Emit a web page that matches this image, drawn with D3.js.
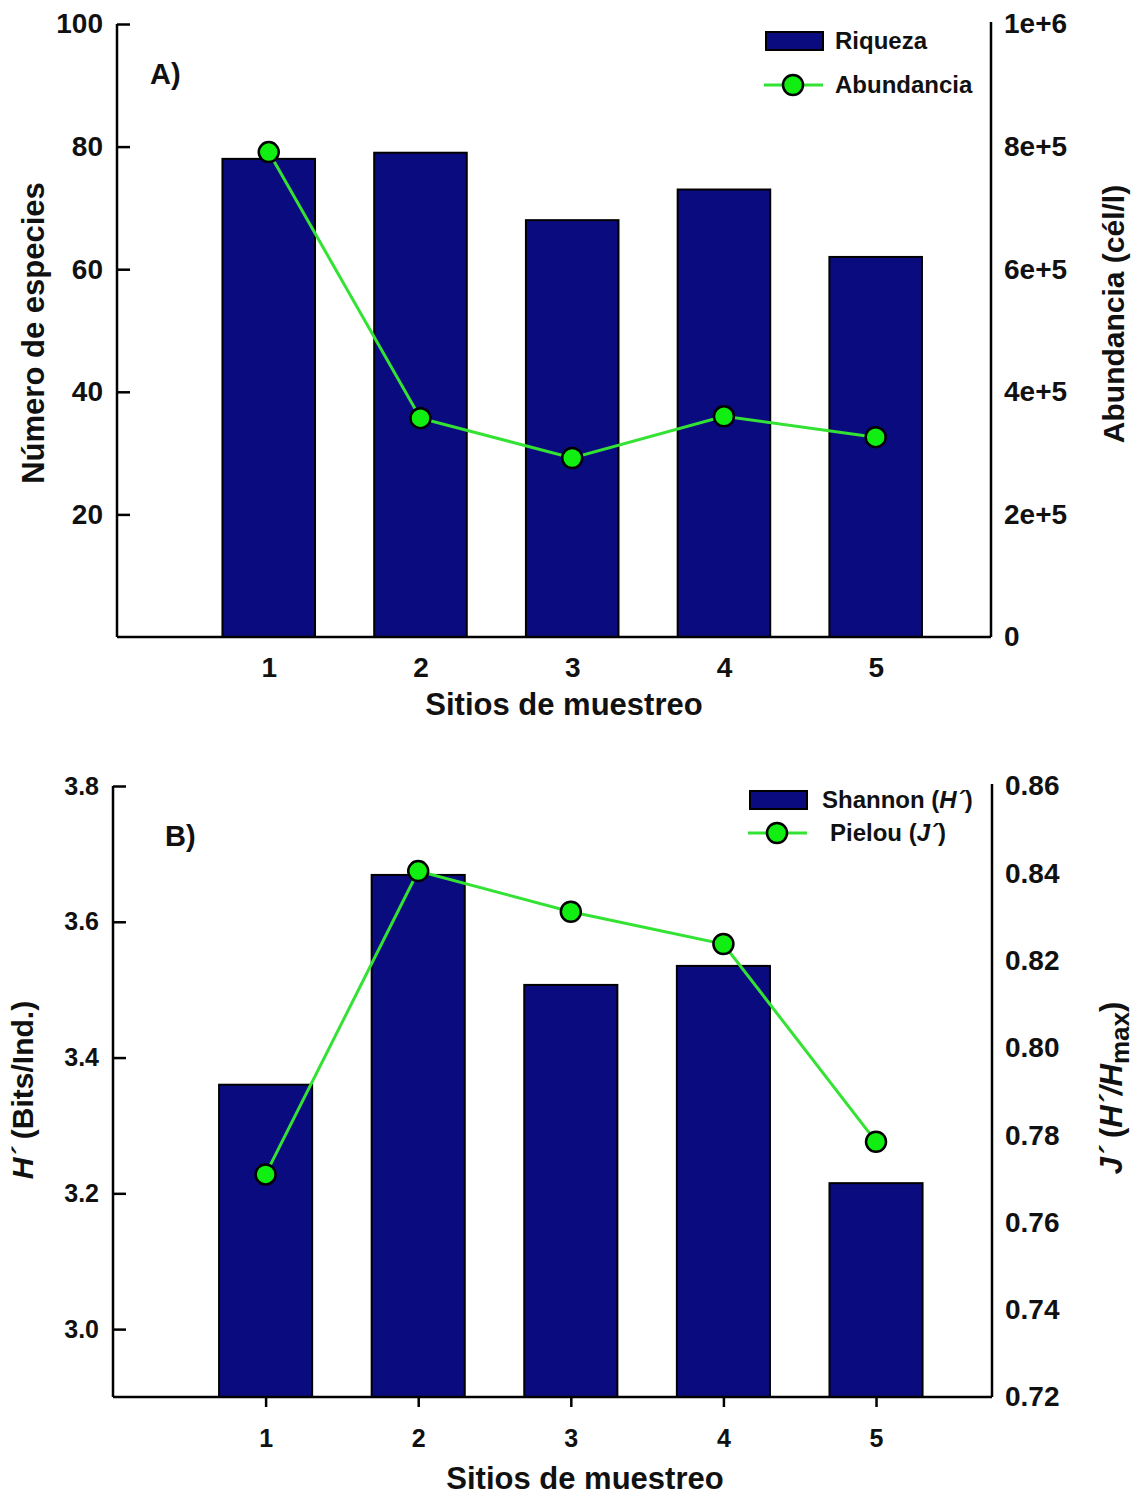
<!DOCTYPE html>
<html>
<head>
<meta charset="utf-8">
<script src="https://cdn.jsdelivr.net/npm/d3@7"></script>
<style>
  body { margin: 0; background: #fff; }
  text { font-family: "Liberation Sans", Arial, sans-serif; fill: #111; }
  .tick-lab { font-weight: bold; }
  .ax-title { font-size: 31px; font-weight: bold; }
  .leg { font-size: 24px; font-weight: bold; }
</style>
</head>
<body>
<svg id="chart" width="1134" height="1498"></svg>
<script>
// data
var sites = [1, 2, 3, 4, 5];
var riqueza = [78, 79, 68, 73, 62];
var abundancia = [791000, 357000, 292000, 360000, 326000];
var shannon = [3.36, 3.669, 3.507, 3.535, 3.215];
var pielou = [0.771, 0.8405, 0.8312, 0.8238, 0.7785];

var leftTicksA = [20, 40, 60, 80, 100];
var rightTicksA = [0, 2e5, 4e5, 6e5, 8e5, 1e6];
var rightLabelsA = ["0", "2e+5", "4e+5", "6e+5", "8e+5", "1e+6"];
var leftTicksB = [3.0, 3.2, 3.4, 3.6, 3.8];
var rightTicksB = [0.72, 0.74, 0.76, 0.78, 0.80, 0.82, 0.84, 0.86];

var barColor = "#0b0b80";
var lineColor = "#33e233";
var dotColor = "#11ee11";

var svg = d3.select("#chart");

function styleTicks(sel, size) {
  sel.selectAll(".tick text").attr("class", "tick-lab")
    .attr("font-family", null).attr("font-size", null)
    .style("font-size", size + "px");
}

function panel(cfg) {
  var g = svg.append("g");
  var x = d3.scaleLinear().domain([0, 5.76]).range([cfg.left, cfg.right]);
  var yL = d3.scaleLinear().domain(cfg.yLDomain).range([cfg.bottom, cfg.top]);
  var yR = d3.scaleLinear().domain(cfg.yRDomain).range([cfg.bottom, cfg.top]);
  var bw = x(0.61) - x(0);

  // bars
  g.selectAll("rect.bar").data(cfg.bars).enter().append("rect")
    .attr("class", "bar")
    .attr("x", function(d, i) { return x(sites[i]) - bw / 2; })
    .attr("y", function(d) { return yL(d); })
    .attr("width", bw)
    .attr("height", function(d) { return cfg.bottom - yL(d); })
    .attr("fill", barColor)
    .attr("stroke", "#000")
    .attr("stroke-width", 2);

  // line + markers
  var line = d3.line()
    .x(function(d, i) { return x(sites[i]); })
    .y(function(d) { return yR(d); });
  g.append("path").datum(cfg.points)
    .attr("d", line)
    .attr("fill", "none")
    .attr("stroke", lineColor)
    .attr("stroke-width", 3);
  g.selectAll("circle.pt").data(cfg.points).enter().append("circle")
    .attr("class", "pt")
    .attr("cx", function(d, i) { return x(sites[i]); })
    .attr("cy", function(d) { return yR(d); })
    .attr("r", 10)
    .attr("fill", dotColor)
    .attr("stroke", "#000")
    .attr("stroke-width", 2.5);

  // left axis (ticks point inward)
  var la = d3.axisLeft(yL).tickValues(cfg.leftTicks).tickSize(-13).tickPadding(14)
    .tickFormat(cfg.leftFmt);
  var lg = g.append("g").attr("transform", "translate(" + cfg.left + ",0)").call(la);
  lg.select(".domain").remove();
  lg.append("line").attr("x1", 0).attr("x2", 0).attr("y1", cfg.top).attr("y2", cfg.bottom)
    .attr("stroke", "#000").attr("stroke-width", 2.5);
  lg.selectAll(".tick line").attr("stroke", "#000").attr("stroke-width", 2.5);
  styleTicks(lg, cfg.leftSize);

  // right axis
  var ra = d3.axisRight(yR).tickValues(cfg.rightTicks).tickSize(0).tickPadding(13)
    .tickFormat(cfg.rightFmt);
  var rg = g.append("g").attr("transform", "translate(" + cfg.right + ",0)").call(ra);
  rg.select(".domain").remove();
  rg.append("line").attr("x1", 0).attr("x2", 0).attr("y1", cfg.top - 2).attr("y2", cfg.bottom)
    .attr("stroke", "#000").attr("stroke-width", 2.5);
  styleTicks(rg, cfg.rightSize);

  // bottom axis
  var ba = d3.axisBottom(x).tickValues(sites).tickSize(cfg.xTick).tickPadding(cfg.xPad)
    .tickFormat(d3.format("d"));
  var bg = g.append("g").attr("transform", "translate(0," + cfg.bottom + ")").call(ba);
  bg.select(".domain").remove();
  bg.append("line").attr("x1", cfg.left).attr("x2", cfg.right).attr("y1", 0).attr("y2", 0)
    .attr("stroke", "#000").attr("stroke-width", 2.5);
  bg.selectAll(".tick line").attr("stroke", "#000").attr("stroke-width", 2.5);
  styleTicks(bg, cfg.xSize);

  // titles
  g.append("text").attr("class", "ax-title").attr("text-anchor", "middle")
    .attr("x", cfg.xTitleX).attr("y", cfg.xTitleY)
    .text("Sitios de muestreo");

  var lt = g.append("text").attr("class", "ax-title").attr("text-anchor", "middle")
    .attr("transform", "translate(" + cfg.leftTitleX + "," + cfg.leftTitleY + ") rotate(-90)");
  cfg.leftTitle(lt);
  var rt = g.append("text").attr("class", "ax-title").attr("text-anchor", "middle")
    .attr("transform", "translate(" + cfg.rightTitleX + "," + cfg.rightTitleY + ") rotate(-90)");
  cfg.rightTitle(rt);

  g.append("text").attr("class", "ax-title").style("font-size", "29px")
    .attr("x", cfg.tagX).attr("y", cfg.tagY).text(cfg.tag);

  // legend
  var L = cfg.legend;
  g.append("rect").attr("x", L.x).attr("y", L.y1 - 9).attr("width", 57).attr("height", 18)
    .attr("fill", barColor).attr("stroke", "#000").attr("stroke-width", 2);
  var t1 = g.append("text").attr("class", "leg").attr("x", L.tx1).attr("y", L.y1 + 8);
  L.label1(t1);
  g.append("line").attr("x1", L.x - 2).attr("x2", L.x + 57).attr("y1", L.y2).attr("y2", L.y2)
    .attr("stroke", lineColor).attr("stroke-width", 3);
  g.append("circle").attr("cx", L.x + 27).attr("cy", L.y2).attr("r", 10)
    .attr("fill", dotColor).attr("stroke", "#000").attr("stroke-width", 2.5);
  var t2 = g.append("text").attr("class", "leg").attr("x", L.tx2).attr("y", L.y2 + 8);
  L.label2(t2);
}

// Panel A
panel({
  left: 117, right: 991, top: 24, bottom: 637,
  yLDomain: [0, 100], yRDomain: [0, 1e6],
  bars: riqueza, points: abundancia,
  leftTicks: leftTicksA, leftFmt: d3.format("d"), leftSize: 28,
  rightTicks: rightTicksA, rightFmt: function(d, i) { return rightLabelsA[i]; }, rightSize: 28,
  xTick: 0, xPad: 20, xSize: 28,
  xTitleX: 564, xTitleY: 715,
  leftTitleX: 44, leftTitleY: 333,
  leftTitle: function(t) { t.text("Número de especies"); },
  rightTitleX: 1124, rightTitleY: 314,
  rightTitle: function(t) { t.style("font-size", "30px").text("Abundancia (cél/l)"); },
  tag: "A)", tagX: 150, tagY: 84,
  legend: {
    x: 766, y1: 41, y2: 85, tx1: 835, tx2: 835,
    label1: function(t) { t.text("Riqueza"); },
    label2: function(t) { t.text("Abundancia"); }
  }
});

// Panel B
panel({
  left: 113, right: 992, top: 786, bottom: 1397,
  yLDomain: [2.9, 3.8], yRDomain: [0.72, 0.86],
  bars: shannon, points: pielou,
  leftTicks: leftTicksB, leftFmt: d3.format(".1f"), leftSize: 25,
  rightTicks: rightTicksB, rightFmt: d3.format(".2f"), rightSize: 28,
  xTick: 10, xPad: 22, xSize: 25,
  xTitleX: 585, xTitleY: 1489,
  leftTitleX: 33, leftTitleY: 1090,
  leftTitle: function(t) {
    t.style("font-size", "30px");
    t.append("tspan").attr("font-style", "italic").text("H´");
    t.append("tspan").text(" (Bits/Ind.)");
  },
  rightTitleX: 1122, rightTitleY: 1088,
  rightTitle: function(t) {
    t.style("font-size", "31px");
    t.append("tspan").attr("font-style", "italic").text("J´");
    t.append("tspan").text(" (");
    t.append("tspan").attr("font-style", "italic").text("H´/H");
    t.append("tspan").style("font-size", "26px").attr("dy", 7).text("max");
    t.append("tspan").attr("dy", -7).text(")");
  },
  tag: "B)", tagX: 165, tagY: 846,
  legend: {
    x: 750, y1: 800, y2: 833, tx1: 822, tx2: 830,
    label1: function(t) {
      t.append("tspan").text("Shannon (");
      t.append("tspan").attr("font-style", "italic").text("H´");
      t.append("tspan").text(")");
    },
    label2: function(t) {
      t.append("tspan").text("Pielou (");
      t.append("tspan").attr("font-style", "italic").text("J´");
      t.append("tspan").text(")");
    }
  }
});
</script>
</body>
</html>
